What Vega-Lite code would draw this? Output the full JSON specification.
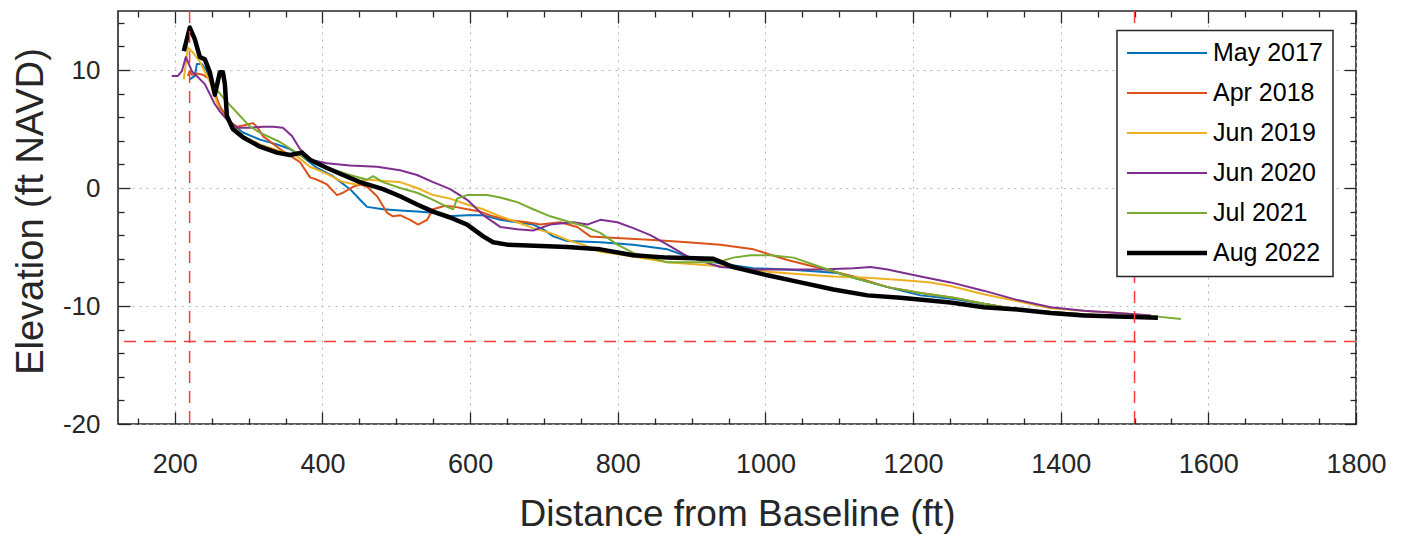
{
  "$schema": "https://vega.github.io/schema/vega-lite/v6.json",
  "width": 1238,
  "height": 413,
  "autosize": {"type": "none"},
  "padding": {"left": 118, "top": 11, "right": 52, "bottom": 115},
  "background": "white",
  "config": {
    "font": "Liberation Sans",
    "view": {"stroke": "#262626", "strokeWidth": 1.6},
    "axis": {"domain": false, "tickColor": "#262626", "tickWidth": 1.3, "labelColor": "#262626", "titleColor": "#262626", "labelFont": "Liberation Sans", "titleFont": "Liberation Sans", "labelOverlap": false, "labelFlush": false, "gridColor": "#b5b5b5", "gridDash": [2, 5], "gridWidth": 1},
    "legend": {"orient": "none", "legendX": 999, "legendY": 19.5, "direction": "vertical", "padding": 10, "rowPadding": 14, "labelFont": "Liberation Sans", "labelFontSize": 25, "labelColor": "#000000", "fillColor": "#ffffff", "strokeColor": "#262626", "strokeWidth": 1.5, "symbolType": "M-2.5,0H13.5", "symbolSize": 100, "labelOffset": 61, "labelLimit": 300}
  },
  "datasets": {
    "profiles": [
      {"date": "May 2017", "dist": 220.3, "elev": 9.2}, {"date": "May 2017", "dist": 227.1, "elev": 9.5}, {"date": "May 2017", "dist": 229.8, "elev": 10.5}, {"date": "May 2017", "dist": 236.6, "elev": 10.5}, {"date": "May 2017", "dist": 243.4, "elev": 9.9}, {"date": "May 2017", "dist": 251.5, "elev": 8.4}, {"date": "May 2017", "dist": 261.0, "elev": 6.9}, {"date": "May 2017", "dist": 274.6, "elev": 5.6}, {"date": "May 2017", "dist": 292.2, "elev": 4.7}, {"date": "May 2017", "dist": 315.3, "elev": 4.1}, {"date": "May 2017", "dist": 338.3, "elev": 3.7}, {"date": "May 2017", "dist": 355.9, "elev": 3.3}, {"date": "May 2017", "dist": 372.2, "elev": 2.7}, {"date": "May 2017", "dist": 392.6, "elev": 1.7}, {"date": "May 2017", "dist": 414.2, "elev": 1.0}, {"date": "May 2017", "dist": 437.3, "elev": -0.1}, {"date": "May 2017", "dist": 450.9, "elev": -1.0}, {"date": "May 2017", "dist": 460.4, "elev": -1.6}, {"date": "May 2017", "dist": 482.0, "elev": -1.8}, {"date": "May 2017", "dist": 505.1, "elev": -1.9}, {"date": "May 2017", "dist": 528.2, "elev": -2.0}, {"date": "May 2017", "dist": 549.8, "elev": -2.1}, {"date": "May 2017", "dist": 568.8, "elev": -2.4}, {"date": "May 2017", "dist": 596.0, "elev": -2.3}, {"date": "May 2017", "dist": 617.7, "elev": -2.3}, {"date": "May 2017", "dist": 640.7, "elev": -2.7}, {"date": "May 2017", "dist": 663.8, "elev": -2.9}, {"date": "May 2017", "dist": 685.4, "elev": -3.1}, {"date": "May 2017", "dist": 699.0, "elev": -3.5}, {"date": "May 2017", "dist": 712.6, "elev": -4.1}, {"date": "May 2017", "dist": 731.6, "elev": -4.5}, {"date": "May 2017", "dist": 776.3, "elev": -4.6}, {"date": "May 2017", "dist": 821.0, "elev": -4.8}, {"date": "May 2017", "dist": 867.2, "elev": -5.2}, {"date": "May 2017", "dist": 894.3, "elev": -5.8}, {"date": "May 2017", "dist": 939.0, "elev": -6.4}, {"date": "May 2017", "dist": 983.8, "elev": -6.8}, {"date": "May 2017", "dist": 1029.9, "elev": -6.9}, {"date": "May 2017", "dist": 1074.6, "elev": -7.1}, {"date": "May 2017", "dist": 1097.7, "elev": -7.2}, {"date": "May 2017", "dist": 1119.4, "elev": -7.6}, {"date": "May 2017", "dist": 1165.5, "elev": -8.4}, {"date": "May 2017", "dist": 1210.2, "elev": -9.1}, {"date": "May 2017", "dist": 1254.9, "elev": -9.4}, {"date": "May 2017", "dist": 1295.6, "elev": -9.8}, {"date": "May 2017", "dist": 1341.7, "elev": -10.3}, {"date": "May 2017", "dist": 1386.5, "elev": -10.5}, {"date": "May 2017", "dist": 1431.2, "elev": -10.7}, {"date": "May 2017", "dist": 1477.4, "elev": -10.9}, {"date": "May 2017", "dist": 1522.1, "elev": -10.9},

      {"date": "Apr 2018", "dist": 217.6, "elev": 9.5}, {"date": "Apr 2018", "dist": 220.3, "elev": 9.9}, {"date": "Apr 2018", "dist": 223.1, "elev": 9.6}, {"date": "Apr 2018", "dist": 229.8, "elev": 9.7}, {"date": "Apr 2018", "dist": 238.0, "elev": 9.6}, {"date": "Apr 2018", "dist": 247.5, "elev": 9.2}, {"date": "Apr 2018", "dist": 261.0, "elev": 6.9}, {"date": "Apr 2018", "dist": 274.6, "elev": 5.6}, {"date": "Apr 2018", "dist": 284.1, "elev": 5.2}, {"date": "Apr 2018", "dist": 292.2, "elev": 5.3}, {"date": "Apr 2018", "dist": 305.8, "elev": 5.5}, {"date": "Apr 2018", "dist": 311.2, "elev": 5.2}, {"date": "Apr 2018", "dist": 319.3, "elev": 4.4}, {"date": "Apr 2018", "dist": 342.4, "elev": 3.3}, {"date": "Apr 2018", "dist": 369.5, "elev": 2.2}, {"date": "Apr 2018", "dist": 383.1, "elev": 0.9}, {"date": "Apr 2018", "dist": 392.6, "elev": 0.7}, {"date": "Apr 2018", "dist": 406.1, "elev": 0.3}, {"date": "Apr 2018", "dist": 419.7, "elev": -0.6}, {"date": "Apr 2018", "dist": 427.8, "elev": -0.4}, {"date": "Apr 2018", "dist": 441.4, "elev": 0.1}, {"date": "Apr 2018", "dist": 450.9, "elev": 0.3}, {"date": "Apr 2018", "dist": 460.4, "elev": 0.1}, {"date": "Apr 2018", "dist": 474.0, "elev": -0.7}, {"date": "Apr 2018", "dist": 487.5, "elev": -2.1}, {"date": "Apr 2018", "dist": 495.6, "elev": -2.4}, {"date": "Apr 2018", "dist": 505.1, "elev": -2.3}, {"date": "Apr 2018", "dist": 518.7, "elev": -2.7}, {"date": "Apr 2018", "dist": 529.5, "elev": -3.1}, {"date": "Apr 2018", "dist": 541.7, "elev": -2.7}, {"date": "Apr 2018", "dist": 549.8, "elev": -1.8}, {"date": "Apr 2018", "dist": 566.1, "elev": -1.5}, {"date": "Apr 2018", "dist": 579.7, "elev": -1.6}, {"date": "Apr 2018", "dist": 596.0, "elev": -1.8}, {"date": "Apr 2018", "dist": 613.6, "elev": -2.0}, {"date": "Apr 2018", "dist": 631.2, "elev": -2.4}, {"date": "Apr 2018", "dist": 650.2, "elev": -2.7}, {"date": "Apr 2018", "dist": 677.3, "elev": -2.9}, {"date": "Apr 2018", "dist": 694.9, "elev": -3.1}, {"date": "Apr 2018", "dist": 722.1, "elev": -2.9}, {"date": "Apr 2018", "dist": 745.1, "elev": -3.3}, {"date": "Apr 2018", "dist": 762.7, "elev": -4.1}, {"date": "Apr 2018", "dist": 785.8, "elev": -4.2}, {"date": "Apr 2018", "dist": 817.0, "elev": -4.3}, {"date": "Apr 2018", "dist": 848.2, "elev": -4.4}, {"date": "Apr 2018", "dist": 894.3, "elev": -4.6}, {"date": "Apr 2018", "dist": 939.0, "elev": -4.8}, {"date": "Apr 2018", "dist": 983.8, "elev": -5.2}, {"date": "Apr 2018", "dist": 1029.9, "elev": -6.1}, {"date": "Apr 2018", "dist": 1074.6, "elev": -6.8}, {"date": "Apr 2018", "dist": 1119.4, "elev": -7.5}, {"date": "Apr 2018", "dist": 1165.5, "elev": -8.4}, {"date": "Apr 2018", "dist": 1210.2, "elev": -8.9}, {"date": "Apr 2018", "dist": 1254.9, "elev": -9.3}, {"date": "Apr 2018", "dist": 1295.6, "elev": -9.8}, {"date": "Apr 2018", "dist": 1341.7, "elev": -10.3}, {"date": "Apr 2018", "dist": 1386.5, "elev": -10.5}, {"date": "Apr 2018", "dist": 1431.2, "elev": -10.7}, {"date": "Apr 2018", "dist": 1477.4, "elev": -10.9}, {"date": "Apr 2018", "dist": 1522.1, "elev": -10.9},

      {"date": "Jun 2019", "dist": 212.2, "elev": 9.2}, {"date": "Jun 2019", "dist": 217.6, "elev": 11.9}, {"date": "Jun 2019", "dist": 224.4, "elev": 11.5}, {"date": "Jun 2019", "dist": 233.9, "elev": 10.7}, {"date": "Jun 2019", "dist": 247.5, "elev": 9.0}, {"date": "Jun 2019", "dist": 261.0, "elev": 6.5}, {"date": "Jun 2019", "dist": 274.6, "elev": 5.6}, {"date": "Jun 2019", "dist": 292.2, "elev": 4.4}, {"date": "Jun 2019", "dist": 315.3, "elev": 3.7}, {"date": "Jun 2019", "dist": 338.3, "elev": 3.2}, {"date": "Jun 2019", "dist": 365.4, "elev": 2.7}, {"date": "Jun 2019", "dist": 383.1, "elev": 1.8}, {"date": "Jun 2019", "dist": 406.1, "elev": 1.2}, {"date": "Jun 2019", "dist": 427.8, "elev": 0.5}, {"date": "Jun 2019", "dist": 446.8, "elev": 0.3}, {"date": "Jun 2019", "dist": 454.9, "elev": 0.7}, {"date": "Jun 2019", "dist": 464.4, "elev": 0.7}, {"date": "Jun 2019", "dist": 482.0, "elev": 0.6}, {"date": "Jun 2019", "dist": 505.1, "elev": 0.5}, {"date": "Jun 2019", "dist": 528.2, "elev": 0.0}, {"date": "Jun 2019", "dist": 549.8, "elev": -0.6}, {"date": "Jun 2019", "dist": 573.0, "elev": -0.9}, {"date": "Jun 2019", "dist": 596.0, "elev": -1.4}, {"date": "Jun 2019", "dist": 617.7, "elev": -1.8}, {"date": "Jun 2019", "dist": 640.7, "elev": -2.4}, {"date": "Jun 2019", "dist": 663.8, "elev": -2.9}, {"date": "Jun 2019", "dist": 685.4, "elev": -3.4}, {"date": "Jun 2019", "dist": 708.5, "elev": -3.8}, {"date": "Jun 2019", "dist": 731.6, "elev": -4.4}, {"date": "Jun 2019", "dist": 753.2, "elev": -4.8}, {"date": "Jun 2019", "dist": 776.3, "elev": -5.4}, {"date": "Jun 2019", "dist": 821.0, "elev": -5.8}, {"date": "Jun 2019", "dist": 867.2, "elev": -6.3}, {"date": "Jun 2019", "dist": 911.9, "elev": -6.5}, {"date": "Jun 2019", "dist": 956.6, "elev": -6.7}, {"date": "Jun 2019", "dist": 1002.8, "elev": -7.1}, {"date": "Jun 2019", "dist": 1047.5, "elev": -7.3}, {"date": "Jun 2019", "dist": 1092.2, "elev": -7.5}, {"date": "Jun 2019", "dist": 1138.4, "elev": -7.6}, {"date": "Jun 2019", "dist": 1183.1, "elev": -7.8}, {"date": "Jun 2019", "dist": 1223.8, "elev": -8.0}, {"date": "Jun 2019", "dist": 1250.9, "elev": -8.3}, {"date": "Jun 2019", "dist": 1295.6, "elev": -9.0}, {"date": "Jun 2019", "dist": 1341.7, "elev": -9.6}, {"date": "Jun 2019", "dist": 1386.5, "elev": -10.2}, {"date": "Jun 2019", "dist": 1431.2, "elev": -10.4}, {"date": "Jun 2019", "dist": 1477.4, "elev": -10.6}, {"date": "Jun 2019", "dist": 1522.1, "elev": -10.8},

      {"date": "Jun 2020", "dist": 195.9, "elev": 9.5}, {"date": "Jun 2020", "dist": 204.1, "elev": 9.5}, {"date": "Jun 2020", "dist": 209.5, "elev": 9.9}, {"date": "Jun 2020", "dist": 214.9, "elev": 11.1}, {"date": "Jun 2020", "dist": 223.1, "elev": 9.9}, {"date": "Jun 2020", "dist": 240.7, "elev": 8.8}, {"date": "Jun 2020", "dist": 254.2, "elev": 7.1}, {"date": "Jun 2020", "dist": 261.0, "elev": 6.5}, {"date": "Jun 2020", "dist": 270.5, "elev": 5.8}, {"date": "Jun 2020", "dist": 284.1, "elev": 5.1}, {"date": "Jun 2020", "dist": 301.7, "elev": 5.1}, {"date": "Jun 2020", "dist": 319.3, "elev": 5.2}, {"date": "Jun 2020", "dist": 332.9, "elev": 5.2}, {"date": "Jun 2020", "dist": 346.4, "elev": 5.1}, {"date": "Jun 2020", "dist": 358.7, "elev": 4.4}, {"date": "Jun 2020", "dist": 369.5, "elev": 3.3}, {"date": "Jun 2020", "dist": 383.1, "elev": 2.4}, {"date": "Jun 2020", "dist": 406.1, "elev": 2.1}, {"date": "Jun 2020", "dist": 437.3, "elev": 1.9}, {"date": "Jun 2020", "dist": 473.9, "elev": 1.8}, {"date": "Jun 2020", "dist": 505.1, "elev": 1.5}, {"date": "Jun 2020", "dist": 528.2, "elev": 1.1}, {"date": "Jun 2020", "dist": 549.8, "elev": 0.5}, {"date": "Jun 2020", "dist": 573.0, "elev": -0.1}, {"date": "Jun 2020", "dist": 596.0, "elev": -1.0}, {"date": "Jun 2020", "dist": 617.7, "elev": -2.3}, {"date": "Jun 2020", "dist": 640.7, "elev": -3.3}, {"date": "Jun 2020", "dist": 663.8, "elev": -3.5}, {"date": "Jun 2020", "dist": 685.4, "elev": -3.6}, {"date": "Jun 2020", "dist": 708.5, "elev": -3.1}, {"date": "Jun 2020", "dist": 739.7, "elev": -2.9}, {"date": "Jun 2020", "dist": 758.7, "elev": -3.1}, {"date": "Jun 2020", "dist": 776.3, "elev": -2.7}, {"date": "Jun 2020", "dist": 799.4, "elev": -2.9}, {"date": "Jun 2020", "dist": 821.0, "elev": -3.4}, {"date": "Jun 2020", "dist": 844.1, "elev": -4.0}, {"date": "Jun 2020", "dist": 867.2, "elev": -4.8}, {"date": "Jun 2020", "dist": 894.3, "elev": -5.8}, {"date": "Jun 2020", "dist": 939.0, "elev": -6.7}, {"date": "Jun 2020", "dist": 983.8, "elev": -6.9}, {"date": "Jun 2020", "dist": 1029.9, "elev": -6.9}, {"date": "Jun 2020", "dist": 1074.6, "elev": -6.9}, {"date": "Jun 2020", "dist": 1119.4, "elev": -6.8}, {"date": "Jun 2020", "dist": 1142.4, "elev": -6.7}, {"date": "Jun 2020", "dist": 1165.5, "elev": -6.9}, {"date": "Jun 2020", "dist": 1210.2, "elev": -7.5}, {"date": "Jun 2020", "dist": 1250.9, "elev": -8.0}, {"date": "Jun 2020", "dist": 1295.6, "elev": -8.7}, {"date": "Jun 2020", "dist": 1341.7, "elev": -9.5}, {"date": "Jun 2020", "dist": 1386.5, "elev": -10.1}, {"date": "Jun 2020", "dist": 1431.2, "elev": -10.4}, {"date": "Jun 2020", "dist": 1477.4, "elev": -10.6}, {"date": "Jun 2020", "dist": 1522.1, "elev": -10.8},

      {"date": "Jul 2021", "dist": 240.7, "elev": 10.7}, {"date": "Jul 2021", "dist": 254.2, "elev": 8.5}, {"date": "Jul 2021", "dist": 270.5, "elev": 7.3}, {"date": "Jul 2021", "dist": 284.1, "elev": 6.4}, {"date": "Jul 2021", "dist": 301.7, "elev": 5.2}, {"date": "Jul 2021", "dist": 315.3, "elev": 4.7}, {"date": "Jul 2021", "dist": 342.4, "elev": 3.9}, {"date": "Jul 2021", "dist": 369.5, "elev": 2.8}, {"date": "Jul 2021", "dist": 392.6, "elev": 2.0}, {"date": "Jul 2021", "dist": 437.3, "elev": 1.1}, {"date": "Jul 2021", "dist": 460.4, "elev": 0.7}, {"date": "Jul 2021", "dist": 468.5, "elev": 1.0}, {"date": "Jul 2021", "dist": 482.0, "elev": 0.5}, {"date": "Jul 2021", "dist": 505.1, "elev": 0.0}, {"date": "Jul 2021", "dist": 528.2, "elev": -0.4}, {"date": "Jul 2021", "dist": 549.8, "elev": -1.0}, {"date": "Jul 2021", "dist": 568.8, "elev": -1.6}, {"date": "Jul 2021", "dist": 577.0, "elev": -1.8}, {"date": "Jul 2021", "dist": 582.4, "elev": -0.9}, {"date": "Jul 2021", "dist": 596.0, "elev": -0.6}, {"date": "Jul 2021", "dist": 623.1, "elev": -0.6}, {"date": "Jul 2021", "dist": 640.7, "elev": -0.8}, {"date": "Jul 2021", "dist": 663.8, "elev": -1.2}, {"date": "Jul 2021", "dist": 685.4, "elev": -1.8}, {"date": "Jul 2021", "dist": 708.5, "elev": -2.4}, {"date": "Jul 2021", "dist": 735.6, "elev": -2.9}, {"date": "Jul 2021", "dist": 753.2, "elev": -3.2}, {"date": "Jul 2021", "dist": 776.3, "elev": -3.8}, {"date": "Jul 2021", "dist": 799.4, "elev": -4.8}, {"date": "Jul 2021", "dist": 821.0, "elev": -5.5}, {"date": "Jul 2021", "dist": 867.2, "elev": -6.3}, {"date": "Jul 2021", "dist": 911.9, "elev": -6.3}, {"date": "Jul 2021", "dist": 934.9, "elev": -6.3}, {"date": "Jul 2021", "dist": 956.6, "elev": -5.9}, {"date": "Jul 2021", "dist": 979.7, "elev": -5.7}, {"date": "Jul 2021", "dist": 1006.8, "elev": -5.7}, {"date": "Jul 2021", "dist": 1038.0, "elev": -5.9}, {"date": "Jul 2021", "dist": 1074.6, "elev": -6.7}, {"date": "Jul 2021", "dist": 1119.4, "elev": -7.6}, {"date": "Jul 2021", "dist": 1165.5, "elev": -8.4}, {"date": "Jul 2021", "dist": 1210.2, "elev": -8.9}, {"date": "Jul 2021", "dist": 1254.9, "elev": -9.3}, {"date": "Jul 2021", "dist": 1295.6, "elev": -9.8}, {"date": "Jul 2021", "dist": 1341.7, "elev": -10.3}, {"date": "Jul 2021", "dist": 1386.5, "elev": -10.5}, {"date": "Jul 2021", "dist": 1431.2, "elev": -10.7}, {"date": "Jul 2021", "dist": 1477.4, "elev": -10.9}, {"date": "Jul 2021", "dist": 1531.6, "elev": -10.9}, {"date": "Jul 2021", "dist": 1562.8, "elev": -11.1},

      {"date": "Aug 2022", "dist": 212.2, "elev": 11.6}, {"date": "Aug 2022", "dist": 220.3, "elev": 13.6}, {"date": "Aug 2022", "dist": 227.1, "elev": 12.6}, {"date": "Aug 2022", "dist": 233.9, "elev": 11.1}, {"date": "Aug 2022", "dist": 240.7, "elev": 10.9}, {"date": "Aug 2022", "dist": 247.5, "elev": 9.8}, {"date": "Aug 2022", "dist": 254.2, "elev": 7.9}, {"date": "Aug 2022", "dist": 261.0, "elev": 9.8}, {"date": "Aug 2022", "dist": 265.1, "elev": 9.8}, {"date": "Aug 2022", "dist": 267.8, "elev": 8.8}, {"date": "Aug 2022", "dist": 270.5, "elev": 6.1}, {"date": "Aug 2022", "dist": 278.6, "elev": 5.0}, {"date": "Aug 2022", "dist": 292.2, "elev": 4.3}, {"date": "Aug 2022", "dist": 315.3, "elev": 3.5}, {"date": "Aug 2022", "dist": 338.3, "elev": 3.0}, {"date": "Aug 2022", "dist": 355.9, "elev": 2.8}, {"date": "Aug 2022", "dist": 372.2, "elev": 3.0}, {"date": "Aug 2022", "dist": 383.1, "elev": 2.4}, {"date": "Aug 2022", "dist": 406.1, "elev": 1.7}, {"date": "Aug 2022", "dist": 427.8, "elev": 1.1}, {"date": "Aug 2022", "dist": 450.9, "elev": 0.5}, {"date": "Aug 2022", "dist": 482.0, "elev": -0.1}, {"date": "Aug 2022", "dist": 505.1, "elev": -0.7}, {"date": "Aug 2022", "dist": 528.2, "elev": -1.4}, {"date": "Aug 2022", "dist": 549.8, "elev": -2.0}, {"date": "Aug 2022", "dist": 573.0, "elev": -2.5}, {"date": "Aug 2022", "dist": 596.0, "elev": -3.1}, {"date": "Aug 2022", "dist": 617.7, "elev": -4.1}, {"date": "Aug 2022", "dist": 631.2, "elev": -4.6}, {"date": "Aug 2022", "dist": 650.2, "elev": -4.8}, {"date": "Aug 2022", "dist": 731.6, "elev": -5.0}, {"date": "Aug 2022", "dist": 776.3, "elev": -5.2}, {"date": "Aug 2022", "dist": 821.0, "elev": -5.7}, {"date": "Aug 2022", "dist": 867.2, "elev": -5.9}, {"date": "Aug 2022", "dist": 929.5, "elev": -6.0}, {"date": "Aug 2022", "dist": 956.6, "elev": -6.7}, {"date": "Aug 2022", "dist": 1002.8, "elev": -7.4}, {"date": "Aug 2022", "dist": 1047.5, "elev": -8.0}, {"date": "Aug 2022", "dist": 1092.2, "elev": -8.6}, {"date": "Aug 2022", "dist": 1138.4, "elev": -9.1}, {"date": "Aug 2022", "dist": 1183.1, "elev": -9.3}, {"date": "Aug 2022", "dist": 1250.9, "elev": -9.7}, {"date": "Aug 2022", "dist": 1295.6, "elev": -10.1}, {"date": "Aug 2022", "dist": 1341.7, "elev": -10.3}, {"date": "Aug 2022", "dist": 1386.5, "elev": -10.6}, {"date": "Aug 2022", "dist": 1431.2, "elev": -10.8}, {"date": "Aug 2022", "dist": 1477.4, "elev": -10.9}, {"date": "Aug 2022", "dist": 1531.6, "elev": -11.0}
    ],
    "refx": [{"dist": 220}, {"dist": 1500}],
    "refy": [{"elev": -13}]
  },
  "data": {"name": "profiles"},
  "resolve": {"axis": {"x": "independent", "y": "independent"}},
  "layer": [
    {
      "mark": {"type": "line", "strokeJoin": "round", "strokeCap": "butt"},
      "encoding": {
        "x": {"field": "dist", "type": "quantitative", "scale": {"domain": [123, 1800], "nice": false, "zero": false},
          "axis": {"orient": "bottom", "values": [200, 400, 600, 800, 1000, 1200, 1400, 1600, 1800], "grid": true, "tickSize": -12, "labelPadding": 39, "labelFontSize": 27, "labelExpr": "'' + datum.value", "title": "Distance from Baseline (ft)", "titleFontSize": 37, "titleFontWeight": "normal", "titleBaseline": "alphabetic", "titleY": 101}},
        "y": {"field": "elev", "type": "quantitative", "scale": {"domain": [-20, 15], "nice": false, "zero": false},
          "axis": {"orient": "left", "values": [-20, -10, 0, 10], "grid": true, "tickSize": -12, "labelPadding": 30, "labelFontSize": 26, "labelExpr": "'' + datum.value", "title": "Elevation (ft NAVD)", "titleFontSize": 38, "titleFontWeight": "normal", "titleAngle": 270, "titleAlign": "center", "titleBaseline": "alphabetic", "titleX": -76, "titleY": 200}},
        "color": {"field": "date", "type": "nominal", "title": null,
          "scale": {"domain": ["May 2017", "Apr 2018", "Jun 2019", "Jun 2020", "Jul 2021", "Aug 2022"], "range": ["#0072BD", "#D95319", "#EDB120", "#7E2F8E", "#77AC30", "#000000"]},
          "legend": {"encode": {"symbols": {"update": {"strokeWidth": {"signal": "datum.value === 'Aug 2022' ? 4.5 : 2"}}}}}},
        "strokeWidth": {"condition": {"test": "datum.date === 'Aug 2022'", "value": 4.5}, "value": 2}
      }
    },
    {
      "mark": {"type": "point", "opacity": 0},
      "encoding": {
        "x": {"field": "dist", "type": "quantitative", "scale": {"domain": [123, 1800], "nice": false, "zero": false},
          "axis": {"orient": "top", "values": [200, 400, 600, 800, 1000, 1200, 1400, 1600, 1800], "labels": false, "grid": false, "tickSize": -12, "title": null}},
        "y": {"field": "elev", "type": "quantitative", "scale": {"domain": [-20, 15], "nice": false, "zero": false},
          "axis": {"orient": "right", "values": [-20, -10, 0, 10], "labels": false, "grid": false, "tickSize": -12, "title": null}}
      }
    },
    {
      "mark": {"type": "point", "opacity": 0},
      "encoding": {
        "x": {"field": "dist", "type": "quantitative", "scale": {"domain": [123, 1800], "nice": false, "zero": false},
          "axis": {"orient": "bottom", "values": [150, 250, 300, 350, 450, 500, 550, 650, 700, 750, 850, 900, 950, 1050, 1100, 1150, 1250, 1300, 1350, 1450, 1500, 1550, 1650, 1700, 1750], "labels": false, "grid": false, "tickSize": -6, "title": null}},
        "y": {"field": "elev", "type": "quantitative", "scale": {"domain": [-20, 15], "nice": false, "zero": false},
          "axis": {"orient": "left", "values": [-18, -16, -14, -12, -8, -6, -4, -2, 2, 4, 6, 8, 12, 14], "labels": false, "grid": false, "tickSize": -6, "title": null}}
      }
    },
    {
      "mark": {"type": "point", "opacity": 0},
      "encoding": {
        "x": {"field": "dist", "type": "quantitative", "scale": {"domain": [123, 1800], "nice": false, "zero": false},
          "axis": {"orient": "top", "values": [150, 250, 300, 350, 450, 500, 550, 650, 700, 750, 850, 900, 950, 1050, 1100, 1150, 1250, 1300, 1350, 1450, 1500, 1550, 1650, 1700, 1750], "labels": false, "grid": false, "tickSize": -6, "title": null}},
        "y": {"field": "elev", "type": "quantitative", "scale": {"domain": [-20, 15], "nice": false, "zero": false},
          "axis": {"orient": "right", "values": [-18, -16, -14, -12, -8, -6, -4, -2, 2, 4, 6, 8, 12, 14], "labels": false, "grid": false, "tickSize": -6, "title": null}}
      }
    },
    {
      "data": {"name": "refx"},
      "mark": {"type": "rule", "color": "#ff3b3b", "strokeWidth": 1.5, "strokeDash": [12, 8]},
      "encoding": {
        "x": {"field": "dist", "type": "quantitative", "scale": {"domain": [123, 1800], "nice": false, "zero": false}, "axis": null}
      }
    },
    {
      "data": {"name": "refy"},
      "mark": {"type": "rule", "color": "#ff3b3b", "strokeWidth": 1.5, "strokeDash": [12, 8]},
      "encoding": {
        "y": {"field": "elev", "type": "quantitative", "scale": {"domain": [-20, 15], "nice": false, "zero": false}, "axis": null}
      }
    }
  ]
}
